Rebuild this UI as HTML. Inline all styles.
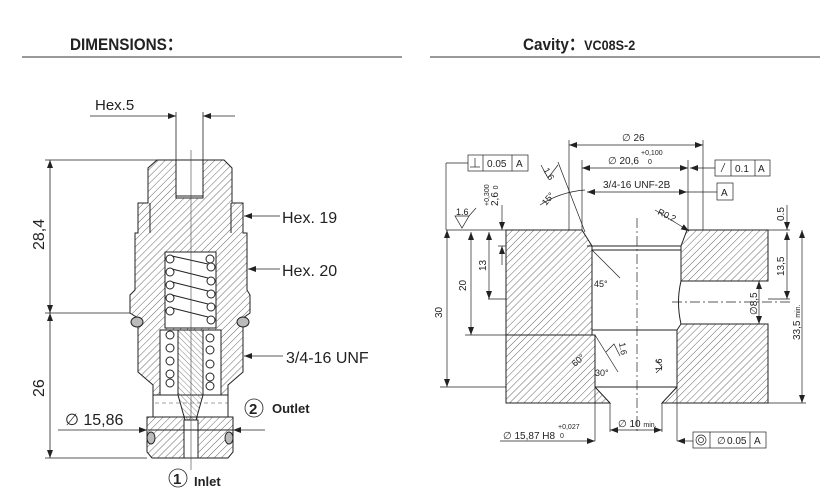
<!DOCTYPE html>
<html><head><meta charset="utf-8"><style>
html,body{margin:0;padding:0;background:#fff;width:838px;height:503px;overflow:hidden}
svg{display:block}
text{font-family:"Liberation Sans",sans-serif;fill:#222}
</style></head><body>
<svg width="838" height="503" viewBox="0 0 838 503" xmlns="http://www.w3.org/2000/svg">
<defs>
<pattern id="h" width="5" height="5" patternUnits="userSpaceOnUse" patternTransform="rotate(45)">
<line x1="0" y1="0" x2="0" y2="5" stroke="#555" stroke-width="0.9"/></pattern>
<pattern id="h2" width="4" height="4" patternUnits="userSpaceOnUse" patternTransform="rotate(-45)">
<line x1="0" y1="0" x2="0" y2="4" stroke="#666" stroke-width="0.8"/></pattern>
<marker id="a" markerWidth="8" markerHeight="6" refX="8" refY="3" orient="auto" markerUnits="userSpaceOnUse"><path d="M0,0L8,3L0,6z" fill="#222"/></marker>
<marker id="b" markerWidth="8" markerHeight="6" refX="0" refY="3" orient="auto" markerUnits="userSpaceOnUse"><path d="M8,0L0,3L8,6z" fill="#222"/></marker>
</defs>

<!-- headers -->
<text transform="translate(70,50) scale(0.9,1)" font-size="17" font-weight="bold">DIMENSIONS：</text>
<line x1="22" y1="57" x2="402" y2="57" stroke="#333" stroke-width="1"/>
<text transform="translate(523,50) scale(0.9,1)" font-size="17" font-weight="bold">Cavity：<tspan font-size="14">VC08S-2</tspan></text>
<line x1="430" y1="57" x2="820" y2="57" stroke="#333" stroke-width="1"/>

<!-- LEFT: cartridge -->
<g stroke="#222" stroke-width="1">
<path d="M157,160 L224,160 L232,168 L232,203 L243,203 L243,233 L247,233 L247,290 L250,295 L250,313 L243,318 L243,330 L243,372 L228,385 L228,395 L153,395 L153,385 L138,372 L138,330 L138,318 L130,313 L130,295 L135,290 L135,233 L138,233 L138,203 L148,203 L148,168 Z" fill="url(#h)"/>
<path d="M147,417 L233,417 L233,452 L228,458 L152,458 L147,452 Z" fill="url(#h)"/>
<rect x="153" y="395" width="75" height="22" fill="#fff"/>
<line x1="153" y1="395" x2="153" y2="417"/><line x1="228" y1="395" x2="228" y2="417"/>
<rect x="176" y="160" width="27" height="38" fill="#fff"/>
<line x1="176" y1="196" x2="203" y2="196"/>
<path d="M150,203 L150,233" /><path d="M231,203 L231,233"/>
<rect x="165" y="252" width="51" height="76" fill="#fff"/>
<rect x="160" y="330" width="61" height="65" fill="#fff"/>
<path d="M178,330 L203,330 L203,395 L196,420 L185,420 L178,395 Z" fill="url(#h2)"/>
<rect x="184" y="420" width="14" height="38" fill="#fff"/>
<g fill="#fff">
<circle cx="170" cy="259" r="4"/><circle cx="170" cy="272" r="4"/><circle cx="170" cy="285" r="4"/><circle cx="170" cy="298" r="4"/><circle cx="170" cy="311" r="4"/>
<circle cx="210" cy="259" r="4"/><circle cx="211" cy="267" r="4"/><circle cx="211" cy="281" r="4"/><circle cx="211" cy="294" r="4"/><circle cx="211" cy="307" r="4"/><circle cx="211" cy="320" r="4"/>
<circle cx="170" cy="335" r="4"/><circle cx="170" cy="348" r="4"/><circle cx="170" cy="361" r="4"/><circle cx="170" cy="374" r="4"/><circle cx="170" cy="383" r="4"/>
<circle cx="210" cy="338" r="4"/><circle cx="210" cy="350" r="4"/><circle cx="210" cy="364" r="4"/><circle cx="210" cy="377" r="4"/><circle cx="210" cy="386" r="4"/>
</g>
<path d="M172,256 L208,264 M172,269 L208,278 M172,282 L208,291 M172,295 L208,304 M172,308 L208,317" fill="none"/>
<ellipse cx="137" cy="322" rx="6" ry="5" fill="#bbb"/><ellipse cx="243" cy="322" rx="6" ry="5" fill="#bbb"/>
<ellipse cx="151" cy="438" rx="4" ry="6" fill="#bbb"/><ellipse cx="229" cy="438" rx="4" ry="6" fill="#bbb"/>
<line x1="148" y1="430" x2="233" y2="430"/>
</g>
<line x1="191" y1="150" x2="191" y2="470" stroke="#444" stroke-width="0.6"/>
<line x1="155" y1="403" x2="228" y2="403" stroke="#444" stroke-width="0.6" stroke-dasharray="4,3"/>

<g stroke="#222" stroke-width="0.8" fill="none">
<line x1="45" y1="160" x2="157" y2="160"/>
<line x1="45" y1="313" x2="130" y2="313"/>
<line x1="45" y1="458" x2="147" y2="458"/>
<line x1="50" y1="160" x2="50" y2="313" marker-start="url(#b)" marker-end="url(#a)"/>
<line x1="50" y1="313" x2="50" y2="458" marker-start="url(#b)" marker-end="url(#a)"/>
<line x1="90" y1="116" x2="176" y2="116" marker-end="url(#a)"/>
<line x1="235" y1="116" x2="203" y2="116" marker-end="url(#a)"/>
<line x1="176" y1="112" x2="176" y2="160"/><line x1="203" y1="112" x2="203" y2="160"/>
<line x1="280" y1="216" x2="244" y2="216" marker-end="url(#a)"/>
<line x1="280" y1="269" x2="248" y2="269" marker-end="url(#a)"/>
<line x1="283" y1="356" x2="244" y2="356" marker-end="url(#a)"/>
<line x1="58" y1="430" x2="147" y2="430" marker-end="url(#a)"/>
<line x1="265" y1="430" x2="233" y2="430" marker-end="url(#a)"/>
<circle cx="254" cy="408" r="9"/><circle cx="178" cy="478" r="9"/>
</g>
<text x="95" y="110" font-size="15">Hex.5</text>
<text x="282" y="223" font-size="16">Hex. 19</text>
<text x="282" y="276" font-size="16">Hex. 20</text>
<text x="286" y="363" font-size="16">3/4-16 UNF</text>
<text x="65" y="425" font-size="16">∅ 15,86</text>
<text x="249" y="414" font-size="15" font-weight="bold">2</text>
<text x="272" y="413" font-size="13" font-weight="bold">Outlet</text>
<text x="173" y="484" font-size="15" font-weight="bold">1</text>
<text x="194" y="486" font-size="13" font-weight="bold">Inlet</text>
<text transform="translate(44,250) rotate(-90)" font-size="16">28,4</text>
<text transform="translate(44,397) rotate(-90)" font-size="16">26</text>

<!-- RIGHT: cavity -->
<g stroke="#222" stroke-width="1">
<path d="M506,230 L582,230 L592,246 L592,335 L506,335 Z" fill="url(#h)"/>
<path d="M506,335 L595,335 L595,387 L610,403 L506,403 Z" fill="url(#h)"/>
<path d="M687,230 L768,230 L768,281 L681,281 L681,246 Z" fill="url(#h)"/>
<path d="M681,324 L768,324 L768,403 L662,403 L677,387 L677,330 Z" fill="url(#h)"/>
<line x1="587" y1="246" x2="681" y2="246"/><line x1="592" y1="250" x2="681" y2="250"/>
<line x1="592" y1="330" x2="677" y2="330"/><line x1="595" y1="387" x2="677" y2="387"/>
<path d="M681,281 Q676,302 681,324" fill="none"/>
</g>
<g stroke="#222" stroke-width="0.7" fill="none">
<line x1="637" y1="218" x2="637" y2="432" stroke-dasharray="10,3,2,3"/>
<line x1="672" y1="302" x2="790" y2="302" stroke-dasharray="10,3,2,3"/>
<line x1="446" y1="230" x2="506" y2="230"/>
<line x1="768" y1="230" x2="790" y2="230"/>
<line x1="440" y1="387" x2="506" y2="387"/>
<line x1="768" y1="403" x2="806" y2="403"/>
<line x1="488" y1="299" x2="506" y2="299"/>
<line x1="465" y1="335" x2="506" y2="335"/>
<line x1="498" y1="246" x2="506" y2="246"/>
<line x1="768" y1="299" x2="790" y2="299"/>
<line x1="569" y1="140" x2="569" y2="230"/><line x1="703" y1="140" x2="703" y2="230"/>
<line x1="569" y1="145" x2="703" y2="145" marker-start="url(#b)" marker-end="url(#a)"/>
<line x1="582" y1="160" x2="582" y2="230"/><line x1="688" y1="160" x2="688" y2="230"/>
<line x1="582" y1="168" x2="688" y2="168" marker-start="url(#b)" marker-end="url(#a)"/>
<line x1="587" y1="192" x2="687" y2="192" marker-start="url(#b)" marker-end="url(#a)"/>
<line x1="687" y1="192" x2="717" y2="192"/>
<line x1="715" y1="168" x2="690" y2="168" marker-end="url(#a)"/>
<line x1="468" y1="163" x2="446" y2="163"/><line x1="446" y1="163" x2="446" y2="230"/>
<line x1="447" y1="230" x2="447" y2="387" marker-start="url(#b)" marker-end="url(#a)"/>
<line x1="471" y1="232" x2="471" y2="335" marker-start="url(#b)" marker-end="url(#a)"/>
<line x1="489" y1="232" x2="489" y2="299" marker-start="url(#b)" marker-end="url(#a)"/>
<line x1="502" y1="205" x2="502" y2="230" marker-end="url(#a)"/>
<line x1="502" y1="265" x2="502" y2="246" marker-end="url(#a)"/>
<line x1="787" y1="205" x2="787" y2="230" marker-end="url(#a)"/>
<line x1="787" y1="232" x2="787" y2="299" marker-start="url(#b)" marker-end="url(#a)"/>
<line x1="802" y1="230" x2="802" y2="403" marker-start="url(#b)" marker-end="url(#a)"/>
<line x1="759" y1="281" x2="759" y2="324" marker-start="url(#b)" marker-end="url(#a)"/>
<line x1="595" y1="387" x2="595" y2="441"/><line x1="677" y1="387" x2="677" y2="441"/>
<line x1="500" y1="441" x2="595" y2="441" marker-end="url(#a)"/>
<line x1="693" y1="441" x2="677" y2="441" marker-end="url(#a)"/>
<line x1="610" y1="403" x2="610" y2="432"/><line x1="662" y1="403" x2="662" y2="432"/>
<line x1="610" y1="430" x2="662" y2="430" marker-start="url(#b)" marker-end="url(#a)"/>
<line x1="558" y1="162" x2="585" y2="232"/>
<line x1="592" y1="250" x2="620" y2="278"/>
<line x1="595" y1="335" x2="618" y2="372"/>
<line x1="655" y1="210" x2="689" y2="231" marker-end="url(#a)"/>
<path d="M540,205 Q560,192 585,190"/>
<path d="M455,216 L462,228 L469,216 Z"/><line x1="469" y1="216" x2="476" y2="208"/>
<path d="M541,165 L548,178 L558,165"/>
<path d="M606,352 L614,344 L620,356"/><path d="M656,360 L662,367 L656,373"/>
<rect x="468" y="155" width="60" height="16"/><line x1="483" y1="155" x2="483" y2="171"/><line x1="512" y1="155" x2="512" y2="171"/>
<rect x="715" y="160" width="55" height="16"/><line x1="731" y1="160" x2="731" y2="176"/><line x1="755" y1="160" x2="755" y2="176"/>
<rect x="717" y="183" width="16" height="17"/>
<rect x="693" y="432" width="73" height="16"/><line x1="710" y1="432" x2="710" y2="448"/><line x1="750" y1="432" x2="750" y2="448"/>
<circle cx="701" cy="440" r="5"/><circle cx="701" cy="440" r="2.5"/>
<line x1="470" y1="167" x2="480" y2="167"/><line x1="475" y1="158" x2="475" y2="167"/>
<line x1="721" y1="172" x2="725" y2="163"/>
</g>
<g font-size="10">
<text x="487" y="167">0.05</text><text x="516" y="167">A</text>
<text x="735" y="172">0.1</text><text x="758" y="172">A</text>
<text x="721" y="196">A</text>
<text x="717" y="444">∅</text><text x="727" y="444">0.05</text><text x="754" y="444">A</text>
<text x="622" y="141">∅ 26</text>
<text x="608" y="164">∅ 20,6</text><text x="641" y="155" font-size="7">+0,100</text><text x="648" y="164" font-size="7">0</text>
<text x="603" y="188">3/4-16 UNF-2B</text>
<text x="503" y="439">∅ 15,87 H8</text><text x="558" y="429" font-size="7">+0,027</text><text x="560" y="438" font-size="7">0</text>
<text x="618" y="427">∅ 10 <tspan font-size="7">min.</tspan></text>
<text x="456" y="215" font-size="9">1.6</text>
<text transform="translate(442,318) rotate(-90)">30</text>
<text transform="translate(466,291) rotate(-90)">20</text>
<text transform="translate(486,271) rotate(-90)">13</text>
<text transform="translate(498,206) rotate(-90)">2,6 <tspan font-size="7">0</tspan></text>
<text transform="translate(489,206) rotate(-90)" font-size="7">+0,300</text>
<text transform="translate(784,221) rotate(-90)">0.5</text>
<text transform="translate(784,276) rotate(-90)">13,5</text>
<text transform="translate(800,340) rotate(-90)">33,5 <tspan font-size="7">min.</tspan></text>
<text transform="translate(757,315) rotate(-90)">∅8,5</text>
<text transform="translate(546,206) rotate(-50)" font-size="9">15°</text>
<text transform="translate(543,170) rotate(60)" font-size="9">1.6</text>
<text x="594" y="287" font-size="9">45°</text>
<text transform="translate(575,367) rotate(-40)" font-size="9">60°</text>
<text x="595" y="376" font-size="9">30°</text>
<text transform="translate(657,214) rotate(25)" font-size="9">R0.2</text>
<text transform="translate(619,343) rotate(80)" font-size="9">1.6</text>
<text transform="translate(662,371) rotate(-90)" font-size="9">1.6</text>
</g>
</svg>
</body></html>
